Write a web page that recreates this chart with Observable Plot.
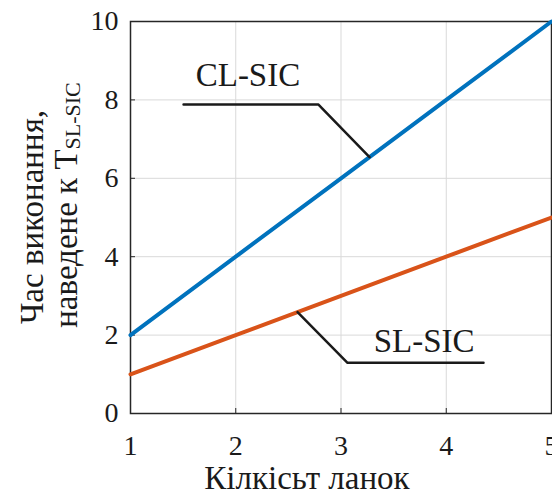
<!DOCTYPE html>
<html>
<head>
<meta charset="utf-8">
<script src="https://cdn.jsdelivr.net/npm/d3@7"></script>
<script src="https://cdn.jsdelivr.net/npm/@observablehq/plot@0.6"></script>
<style>
  html, body { margin: 0; padding: 0; background: #fff; }
  #chart svg { display: block; }
  #chart svg text { font-family: "Liberation Serif", "Times New Roman", serif; }
  #chart g[aria-label="x-axis tick label"], #chart g[aria-label="y-axis tick label"] { font-size: 28px; }
</style>
</head>
<body>
<div id="chart"></div>
<script>
// Data
const links = [1, 2, 3, 4, 5];
const clSic = [2, 4, 6, 8, 10];
const slSic = [1, 2, 3, 4, 5];
const xTicks = [1, 2, 3, 4, 5];
const yTicks = [0, 2, 4, 6, 8, 10];
const seriesNames = ["CL-SIC", "SL-SIC"];
const seriesColors = ["#0072BD", "#D95319"];
// annotation leader lines (data coordinates)
const clLeaderX = [1.504, 2.786, 3.271];
const clLeaderY = [7.88, 7.88, 6.54];
const slLeaderX = [2.587, 3.062, 4.354];
const slLeaderY = [2.587, 1.294, 1.294];
const labelX = [2.116, 3.79];
const labelY = [8.62, 1.85];

const rows = [];
links.forEach((n, i) => {
  rows.push({x: n, y: clSic[i], s: seriesNames[0]});
  rows.push({x: n, y: slSic[i], s: seriesNames[1]});
});
const clLeader = clLeaderX.map((x, i) => ({x, y: clLeaderY[i]}));
const slLeader = slLeaderX.map((x, i) => ({x, y: slLeaderY[i]}));
const labels = seriesNames.map((s, i) => ({s, x: labelX[i], y: labelY[i]}));

const font = '"Liberation Serif", "Times New Roman", serif';

const chart = Plot.plot({
  width: 552,
  height: 495,
  marginLeft: 130,
  marginRight: 1,
  marginTop: 21,
  marginBottom: 82,
  style: {fontFamily: font, background: "#fff"},
  x: {domain: [1, 5], ticks: xTicks, label: null},
  y: {domain: [0, 10], ticks: yTicks, label: null},
  color: {domain: seriesNames, range: seriesColors},
  marks: [
    Plot.gridX(xTicks, {stroke: "#d9d9d9", strokeOpacity: 1, strokeWidth: 1}),
    Plot.gridY(yTicks, {stroke: "#d9d9d9", strokeOpacity: 1, strokeWidth: 1}),
    Plot.axisX(xTicks, {tickSize: -5, tickFormat: () => "", stroke: "#262626", anchor: "bottom", label: null}),
    Plot.axisY(yTicks, {tickSize: -5, tickFormat: () => "", stroke: "#262626", anchor: "left", label: null}),
    Plot.axisX(xTicks, {tickSize: 0, tickPadding: 22, fontSize: 28, color: "#1a1a1a", anchor: "bottom", label: null}),
    Plot.axisY(yTicks, {tickSize: 0, tickPadding: 12, fontSize: 28, color: "#1a1a1a", anchor: "left", label: null}),
    Plot.frame({stroke: "#262626", strokeWidth: 1.5}),
    Plot.line(rows, {x: "x", y: "y", z: "s", stroke: "s", strokeWidth: 4}),
    Plot.line(clLeader, {x: "x", y: "y", stroke: "#1a1a1a", strokeWidth: 2.5}),
    Plot.line(slLeader, {x: "x", y: "y", stroke: "#1a1a1a", strokeWidth: 2.5}),
    Plot.text(labels, {x: "x", y: "y", text: "s", fontSize: 33, fill: "#1a1a1a", textAnchor: "middle"})
  ]
});

const svg = d3.select(chart);
// X axis label
svg.append("text")
  .attr("x", 307).attr("y", 489)
  .attr("text-anchor", "middle")
  .attr("font-size", 33).attr("fill", "#1a1a1a")
  .text("Кілкісьт ланок");
// Y axis label (two lines, rotated)
const yl = svg.append("g").attr("transform", "translate(43,217) rotate(-90)")
  .attr("font-size", 33).attr("fill", "#1a1a1a");
yl.append("text").attr("x", 0).attr("y", 0).attr("text-anchor", "middle").text("Час виконання,");
const l2 = yl.append("text").attr("x", 12).attr("y", 34).attr("text-anchor", "middle");
l2.append("tspan").text("наведене к T");
l2.append("tspan").attr("font-size", 22).attr("dy", 3).text("SL-SIC");

document.getElementById("chart").appendChild(chart);
</script>
</body>
</html>
